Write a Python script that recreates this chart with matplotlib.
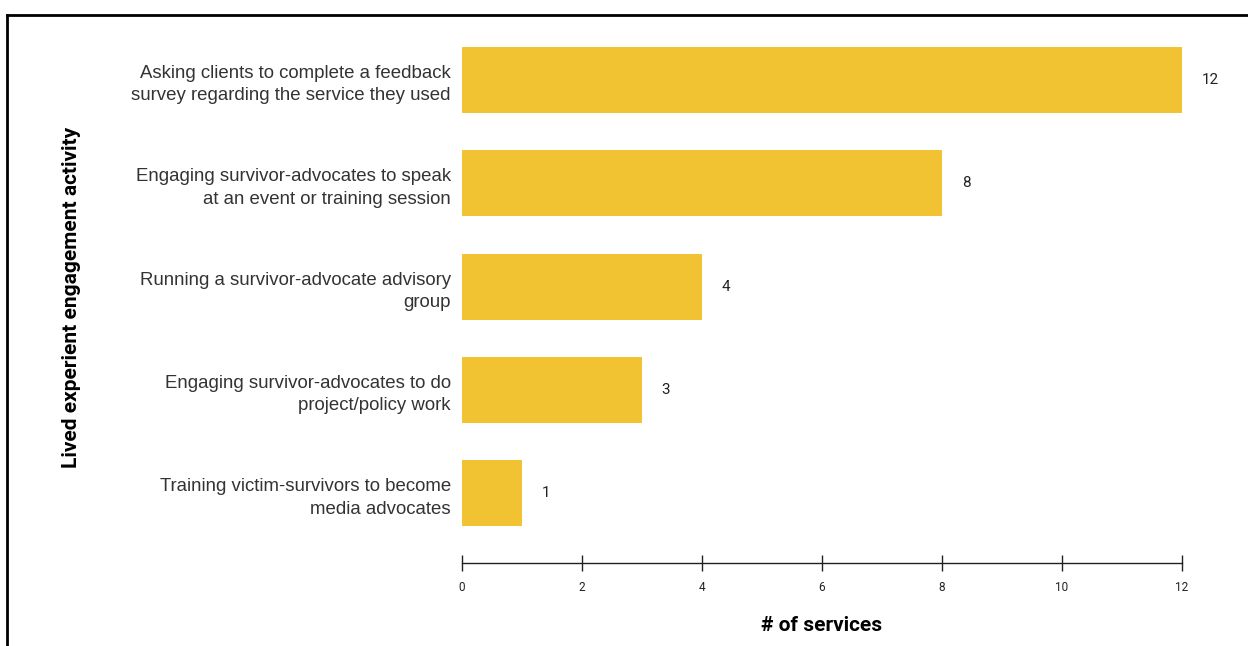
import matplotlib.pyplot as plt
from matplotlib.lines import Line2D

# data
activities = [
    "Asking clients to complete a feedback\nsurvey regarding the service they used",
    "Engaging survivor-advocates to speak\nat an event or training session",
    "Running a survivor-advocate advisory\ngroup",
    "Engaging survivor-advocates to do\nproject/policy work",
    "Training victim-survivors to become\nmedia advocates",
]
services = [12, 8, 4, 3, 1]
xticks = [0, 2, 4, 6, 8, 10, 12]

bar_color = "#F1C232"

fig = plt.figure(figsize=(12.48, 6.46), dpi=100)
ax = fig.add_axes([462 / 1248, 1 - 563 / 646, 720 / 1248, 533 / 646])

pos = list(range(len(activities)))
ax.barh(pos, services, height=0.64, color=bar_color)
ax.set_ylim(len(activities) - 1 + 0.674, -0.484)
ax.set_xlim(0, 12)

for p, v in zip(pos, services):
    ax.text(v + 0.33, p, str(v), va="center", ha="left", fontsize=11,
            family="Roboto", color="#222222")

ax.set_yticks(pos)
ax.set_yticklabels(activities, fontsize=13.4, family="Liberation Sans", color="#333333",
                   linespacing=1.42)
ax.tick_params(axis="y", length=0, pad=8)

ax.set_xticks(xticks)
ax.set_xticklabels([str(t) for t in xticks], fontsize=8.5, family="Roboto", color="#222222")
ax.tick_params(axis="x", direction="inout", length=12, width=1, color="#222222", pad=7)

for s in ["top", "right", "left"]:
    ax.spines[s].set_visible(False)
ax.spines["bottom"].set_color("#222222")
ax.spines["bottom"].set_linewidth(1)

ax.set_xlabel("# of services", fontsize=15, fontweight="bold", family="Roboto", labelpad=16)
fig.text(72 / 1248, 1 - 297 / 646, "Lived experient engagement activity", rotation=90,
         fontsize=15, fontweight="bold", family="Roboto", ha="center", va="center")

# frame lines at top and left
fig.add_artist(Line2D([7 / 1248, 1], [1 - 15 / 646, 1 - 15 / 646], color="black", lw=2,
                      transform=fig.transFigure))
fig.add_artist(Line2D([7 / 1248, 7 / 1248], [0, 1 - 15 / 646], color="black", lw=2,
                      transform=fig.transFigure))

fig.savefig("out.png", dpi=100)
